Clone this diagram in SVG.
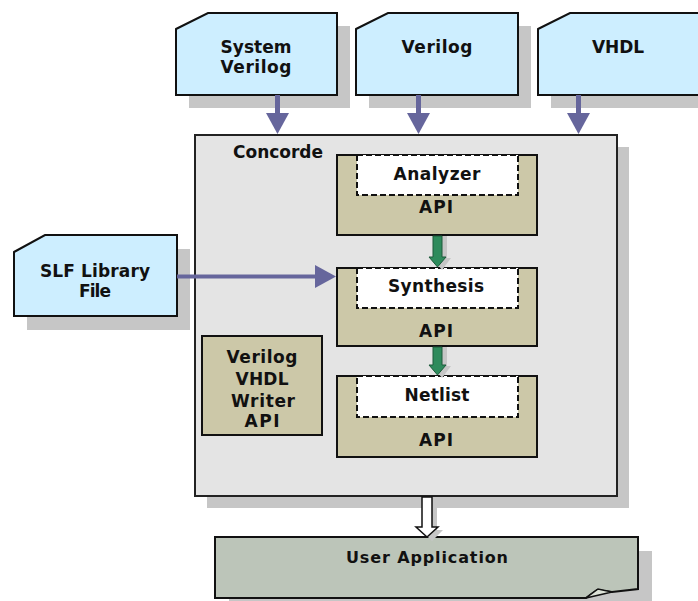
<svg xmlns="http://www.w3.org/2000/svg" width="698" height="601" viewBox="0 0 698 601">
<style>
.shadow{fill:#c6c6c6;stroke:none}
.src{fill:#cdeeff;stroke:#111;stroke-width:2}
.panel{fill:#e4e4e4;stroke:#222;stroke-width:2}
.api{fill:#ccc8a8;stroke:#111;stroke-width:2}
.inner{fill:#fff;stroke:#111;stroke-width:2;stroke-dasharray:6 3}
.app{fill:#bcc5b9;stroke:#111;stroke-width:2}
text{font-family:"DejaVu Sans","Verdana",sans-serif;font-weight:bold;font-size:17px;fill:#111}
.c{text-anchor:middle}
.blue{fill:#66669c;stroke:none}
.green{fill:#2e8b5c;stroke:#1c5a3a;stroke-width:1}
.hollow{fill:#fff;stroke:#111;stroke-width:1.5}
</style>
<rect width="698" height="601" fill="#fff"/>

<g id="system-verilog">
<polygon class="shadow" points="189,42 221,26 350,26 350,108 189,108"/>
<polygon class="src" points="176,29 208,13 337,13 337,95 176,95"/>
<text class="c" x="256" y="53" textLength="71" lengthAdjust="spacing">System</text>
<text class="c" x="256" y="73" textLength="71" lengthAdjust="spacing">Verilog</text>
</g>

<g id="verilog">
<polygon class="shadow" points="369,42 401,26 531,26 531,108 369,108"/>
<polygon class="src" points="356,29 388,13 518,13 518,95 356,95"/>
<text class="c" x="437" y="53" textLength="71" lengthAdjust="spacing">Verilog</text>
</g>

<g id="vhdl">
<polygon class="shadow" points="551,42 583,26 713,26 713,108 551,108"/>
<polygon class="src" points="538,29 570,13 700,13 700,95 538,95"/>
<text class="c" x="618" y="53" textLength="52" lengthAdjust="spacing">VHDL</text>
</g>

<g id="slf-library">
<polygon class="shadow" points="27,266 58,249 190,249 190,330 27,330"/>
<polygon class="src" points="14,252 45,235 177,235 177,316 14,316"/>
<text class="c" x="95" y="277" textLength="110" lengthAdjust="spacing">SLF Library</text>
<text class="c" x="95" y="297" textLength="32" lengthAdjust="spacing">File</text>
</g>

<g id="concorde">
<rect class="shadow" x="207" y="147" width="422" height="361"/>
<rect class="panel" x="195" y="135" width="422" height="361"/>
<text x="233" y="158" textLength="90" lengthAdjust="spacing">Concorde</text>
</g>

<g id="analyzer">
<rect class="api" x="337" y="155" width="200" height="80"/>
<rect class="inner" x="357" y="155" width="161" height="40"/>
<text class="c" x="437" y="180" textLength="87" lengthAdjust="spacing">Analyzer</text>
<text class="c" x="436" y="213" textLength="34" lengthAdjust="spacing">API</text>
</g>

<g id="synthesis">
<rect class="api" x="337" y="268" width="200" height="78"/>
<rect class="inner" x="357" y="268" width="161" height="40"/>
<text class="c" x="436" y="292" textLength="96" lengthAdjust="spacing">Synthesis</text>
<text class="c" x="436" y="337" textLength="34" lengthAdjust="spacing">API</text>
</g>

<g id="netlist">
<rect class="api" x="337" y="376" width="200" height="81"/>
<rect class="inner" x="357" y="376" width="161" height="41"/>
<text class="c" x="437" y="401" textLength="65" lengthAdjust="spacing">Netlist</text>
<text class="c" x="436" y="446" textLength="34" lengthAdjust="spacing">API</text>
</g>

<g id="writer-api">
<rect class="api" x="202" y="336" width="120" height="99"/>
<text class="c" x="262" y="363" textLength="71" lengthAdjust="spacing">Verilog</text>
<text class="c" x="262" y="385" textLength="53" lengthAdjust="spacing">VHDL</text>
<text class="c" x="263" y="407" textLength="64" lengthAdjust="spacing">Writer</text>
<text class="c" x="262" y="427" textLength="35" lengthAdjust="spacing">API</text>
</g>

<g id="user-application">
<rect class="shadow" x="229" y="551" width="423" height="55"/>
<path class="app" d="M215,537 H638 V589 L612,592 L597,590 Q591,594 586,598 H215 Z"/>
<path d="M586,598 L598,589 L612,592 Z" fill="#dde2d8" stroke="#111" stroke-width="1.5"/>
<text class="c" x="427" y="563" style="font-size:16px" textLength="162" lengthAdjust="spacing">User Application</text>
</g>

<g id="connectors">
<rect class="blue" x="275" y="95" width="5" height="19"/>
<polygon class="blue" points="266,113 289,113 277.5,134"/>
<rect class="blue" x="416" y="95" width="5" height="19"/>
<polygon class="blue" points="407,113 430,113 418.5,134"/>
<rect class="blue" x="576" y="95" width="5" height="19"/>
<polygon class="blue" points="567,113 590,113 578.5,134"/>
<rect class="blue" x="177" y="274.5" width="140" height="4"/>
<polygon class="blue" points="315,265 336,276.5 315,288"/>
<polygon class="shadow" points="438,236 447,236 447,258 451,258 442,270 433,258 438,258"/>
<polygon class="green" points="433,236 442,236 442,257 446,257 437.5,267 429,257 433,257"/>
<polygon class="shadow" points="438,347 447,347 447,366 451,366 442,378 433,366 438,366"/>
<polygon class="green" points="433,347 442,347 442,365 446,365 437.5,375 429,365 433,365"/>
<polygon class="shadow" points="427,508 437,508 437,530 443,530 432,541 421,530 427,530"/>
<polygon class="hollow" points="422,497 432,497 432,527 438,527 427,537 416,527 422,527"/>
</g>
</svg>
